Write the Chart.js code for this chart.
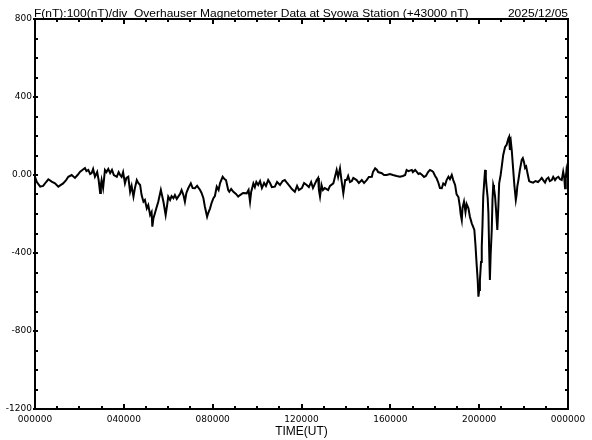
<!DOCTYPE html>
<html><head><meta charset="utf-8">
<script src="https://cdn.jsdelivr.net/npm/chart.js@4/dist/chart.umd.min.js"></script>
<style>html,body{margin:0;padding:0;background:#fff;}#wrap{position:relative;width:592px;height:440px;}</style>
</head><body><div id="wrap"><canvas id="c" width="592" height="440"></canvas></div>
<script>
const titleText = 'F(nT):100(nT)/div  Overhauser Magnetometer Data at Syowa Station (+43000 nT)';
const dateText = '2025/12/05';
const xAxisTitle = 'TIME(UT)';
const xTickValues = [0, 240, 480, 720, 960, 1200, 1440];
const xTickLabels = ['000000', '040000', '080000', '120000', '160000', '200000', '000000'];
const yTickValues = [800, 400, 0, -400, -800, -1200];
const yTickLabels = ['800', '400', '0.00', '-400', '-800', '-1200'];

// UT minutes of day
const timeMinutes = [0,5,14,22,30,36,45,54,63,70,76,84,90,99,108,115,122,128,135,139,144,149,153,157,162,168,172,176,178,180,184,189,193,198,203,208,213,221,226,230,234,238,243,247,252,257,261,266,270,275,279,284,288,293,297,302,306,311,315,317,320,324,328,333,340,343,347,353,357,360,365,369,374,378,383,387,392,396,401,405,409,414,421,426,432,438,446,450,455,459,465,468,473,477,482,486,491,496,500,507,512,516,522,525,530,536,543,549,554,562,572,577,581,584,590,594,598,603,608,613,619,624,630,635,640,648,654,662,669,675,681,689,694,702,708,713,721,727,734,740,746,751,761,765,767,770,774,778,783,792,797,806,811,815,819,824,828,833,838,842,846,851,856,860,869,875,883,889,896,902,910,913,919,924,927,937,943,950,959,967,977,986,994,1000,1004,1009,1018,1021,1027,1031,1036,1040,1046,1051,1056,1062,1067,1073,1076,1081,1085,1090,1094,1099,1103,1108,1112,1117,1121,1126,1130,1135,1139,1144,1148,1150,1153,1155,1159,1163,1166,1171,1175,1180,1183,1187,1190,1193,1196,1198,1200,1202,1205,1207,1209,1211,1214,1216,1218,1220,1223,1225,1227,1229,1231,1234,1236,1238,1240,1243,1246,1249,1252,1254,1258,1261,1265,1270,1274,1279,1281,1283,1286,1288,1290,1292,1295,1299,1301,1303,1306,1310,1315,1318,1321,1324,1327,1331,1335,1340,1346,1352,1359,1364,1369,1373,1378,1382,1387,1391,1396,1400,1405,1409,1414,1418,1423,1427,1430,1432,1434,1436,1438,1440];
// F - 43000 nT
const fieldNT = [-9,-36,-60,-56,-36,-22,-34,-43,-60,-51,-43,-26,-9,0,-15,0,17,26,36,20,26,5,10,31,-9,15,-26,-92,-51,-26,-67,26,15,31,10,26,0,-9,15,0,-10,15,-43,-15,-9,-86,-56,-111,-67,-26,-41,-51,-103,-137,-128,-171,-154,-205,-190,-265,-221,-196,-169,-137,-77,-103,-137,-205,-154,-111,-128,-108,-119,-103,-123,-111,-97,-77,-103,-137,-92,-68,-43,-67,-68,-56,-77,-92,-119,-163,-214,-195,-171,-144,-119,-108,-60,-77,-41,-9,-21,-26,-77,-86,-72,-86,-97,-111,-103,-92,-94,-77,-137,-87,-43,-62,-36,-51,-31,-67,-41,-56,-26,-41,-62,-60,-36,-51,-31,-26,-41,-60,-72,-86,-56,-77,-67,-41,-51,-62,-36,-67,-26,-15,-77,-111,-51,-77,-67,-77,-56,-43,-5,26,-10,34,-26,-94,-26,-26,-5,-36,-31,-15,-26,-41,-26,-41,-26,-10,-9,15,34,26,15,9,0,0,5,0,-5,-9,-5,0,26,20,26,15,26,17,5,9,0,-10,-5,15,26,20,15,-5,-17,-41,-67,-68,-43,-51,-26,-9,-21,0,-26,-51,-99,-113,-163,-200,-231,-169,-137,-190,-149,-171,-214,-248,-262,-282,-359,-453,-538,-624,-590,-538,-446,-368,-256,-111,-26,26,-15,-60,-118,-196,-385,-538,-410,-282,-128,-51,-67,-111,-190,-282,-154,-43,0,43,103,144,154,188,196,128,164,128,77,26,-51,-128,-103,-60,-26,26,77,86,67,36,43,5,-31,-36,-39,-31,-36,-26,-15,-26,-39,-21,-13,-31,-26,-10,-26,-15,-9,-21,-26,17,-15,-68,-15,26,5,34];

const frame = {
  id: 'frame',
  afterDraw(chart) {
    const {ctx, chartArea: a, scales: {x, y}} = chart;
    ctx.save();
    ctx.strokeStyle = '#000';
    ctx.lineWidth = 2;
    ctx.strokeRect(a.left, a.top, a.right - a.left, a.bottom - a.top);
    ctx.beginPath();
    y.ticks.forEach(t => {
      const py = Math.round(y.getPixelForValue(t.value));
      const major = yTickValues.includes(t.value);
      ctx.moveTo(a.left - (major ? 2 : 0), py); ctx.lineTo(a.left + 3, py);
      ctx.moveTo(a.right - 3, py); ctx.lineTo(a.right, py);
    });
    x.ticks.forEach(t => {
      const px = Math.round(x.getPixelForValue(t.value));
      const major = xTickValues.includes(t.value);
      const len = major ? 5 : 3;
      ctx.moveTo(px, a.bottom); ctx.lineTo(px, a.bottom - len);
      ctx.moveTo(px, a.top); ctx.lineTo(px, a.top + len);
    });
    ctx.stroke();
    ctx.fillStyle = '#000';
    ctx.font = '10px "Liberation Sans", Arial, sans-serif';
    ctx.textBaseline = 'alphabetic';
    ctx.save(); ctx.translate(a.left - 1, 16.5); ctx.scale(1.2, 1);
    ctx.textAlign = 'left'; ctx.fillText(titleText, 0, 0); ctx.restore();
    ctx.save(); ctx.translate(a.right, 16.5); ctx.scale(1.2, 1);
    ctx.textAlign = 'right'; ctx.fillText(dateText, 0, 0); ctx.restore();
    ctx.restore();
  }
};

new Chart(document.getElementById('c'), {
  type: 'line',
  data: {
    datasets: [{
      data: timeMinutes.map((t, i) => ({x: t, y: fieldNT[i]})),
      borderColor: '#000', borderWidth: 2, pointRadius: 0, tension: 0, fill: false
    }]
  },
  options: {
    responsive: false, animation: false, devicePixelRatio: 1,
    layout: {padding: {left: 0, right: 24, top: 19, bottom: 0}},
    plugins: {legend: {display: false}, tooltip: {enabled: false}, title: {display: false}},
    scales: {
      x: {
        type: 'linear', min: 0, max: 1440,
        grid: {display: false, drawTicks: false}, border: {display: false},
        ticks: {
          stepSize: 60, autoSkip: false, maxRotation: 0, padding: 5, color: '#000',
          font: {family: 'DejaVu Sans', size: 9},
          callback: v => { const i = xTickValues.indexOf(v); return i >= 0 ? xTickLabels[i] : ''; }
        },
        title: {display: true, text: xAxisTitle, color: '#000',
          font: {family: 'Liberation Sans', size: 12}, padding: {top: 0, bottom: 1.5}},
        afterFit: s => { s.height = 31; }
      },
      y: {
        min: -1200, max: 800,
        grid: {display: false, drawTicks: false}, border: {display: false},
        ticks: {
          stepSize: 100, autoSkip: false, padding: 3, color: '#000',
          font: {family: 'DejaVu Sans', size: 9},
          callback: v => { const i = yTickValues.indexOf(v); return i >= 0 ? yTickLabels[i] : ''; }
        },
        afterFit: s => { s.width = 35; }
      }
    }
  },
  plugins: [frame]
});
</script>
</body></html>
